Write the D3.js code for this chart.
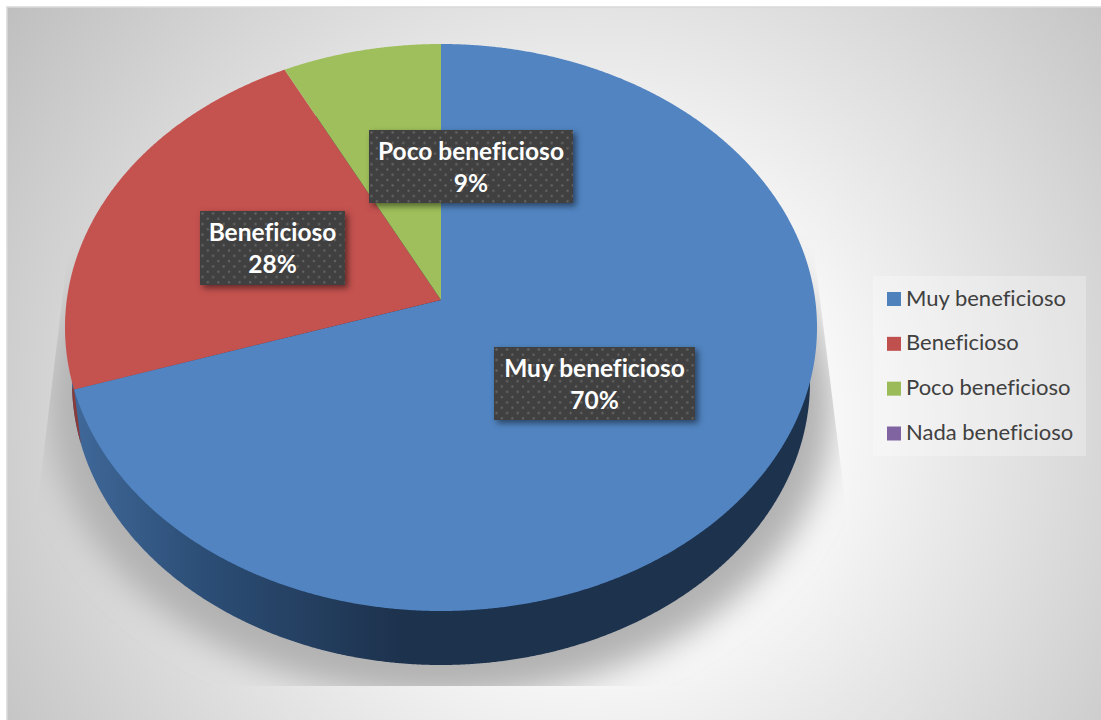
<!DOCTYPE html>
<html>
<head>
<meta charset="utf-8">
<script src="https://d3js.org/d3.v7.min.js"></script>
<style>
  html, body { margin: 0; padding: 0; background: #fff; overflow: hidden; }
  text { font-family: Lato, "Open Sans", sans-serif; font-variant-ligatures: none; }
</style>
</head>
<body>
<div class="chart"></div>
<script>
const categories = ['Muy beneficioso', 'Beneficioso', 'Poco beneficioso', 'Nada beneficioso'];
const sliceValues = [70, 22.5, 7.5, 0];
const labelTexts = ['70%', '28%', '9%'];
const colors = ['#4f81bd', '#c0504d', '#9bbb59', '#8064a2'];

const width = 1101, height = 720;
const svg = d3.select('.chart').append('svg')
    .attr('width', width)
    .attr('height', height)
    .style('display', 'block');
const defs = svg.append('defs');

// background
const bg = defs.append('radialGradient')
    .attr('id', 'bg')
    .attr('gradientUnits', 'userSpaceOnUse')
    .attr('cx', 590).attr('cy', 420).attr('r', 730);
bg.append('stop').attr('offset', '0.25').attr('stop-color', '#ffffff');
bg.append('stop').attr('offset', '1').attr('stop-color', '#bdbdbd');

// side of the pie
const wall = defs.append('linearGradient')
    .attr('id', 'wall')
    .attr('gradientUnits', 'userSpaceOnUse')
    .attr('x1', 70).attr('x2', 400).attr('y1', 0).attr('y2', 0);
wall.append('stop').attr('offset', '0').attr('stop-color', '#40699a');
wall.append('stop').attr('offset', '0.4').attr('stop-color', '#2c4e76');
wall.append('stop').attr('offset', '1').attr('stop-color', '#1d324d');

defs.append('filter').attr('id', 'floorBlur')
    .attr('x', '-20%').attr('y', '-20%').attr('width', '140%').attr('height', '140%')
    .append('feGaussianBlur').attr('stdDeviation', 16);
defs.append('clipPath').attr('id', 'floorClip')
    .append('polygon')
    .attr('points', '70,235 812,235 845,500 845,686 38,686 38,500');

const shadow = defs.append('filter').attr('id', 'boxShadow')
    .attr('x', '-10%').attr('y', '-20%').attr('width', '120%').attr('height', '140%');
shadow.append('feDropShadow')
    .attr('dx', 3).attr('dy', 3).attr('stdDeviation', 3)
    .attr('flood-color', '#000').attr('flood-opacity', 0.5);

const dots = defs.append('pattern').attr('id', 'dots')
    .attr('patternUnits', 'userSpaceOnUse')
    .attr('width', 10.6).attr('height', 10.6);
dots.append('rect').attr('width', 10.6).attr('height', 10.6).attr('fill', '#404040');
[[2.5, 2.5], [7.8, 7.8]].forEach(p => {
    dots.append('circle').attr('cx', p[0]).attr('cy', p[1]).attr('r', 1.2)
        .attr('fill', '#666666');
});

svg.append('rect')
    .attr('x', 7).attr('y', 7)
    .attr('width', width).attr('height', height)
    .attr('fill', 'url(#bg)')
    .attr('stroke', '#d9d9d9')
    .attr('stroke-width', 1.5);

// floor shadow
svg.append('g')
    .attr('clip-path', 'url(#floorClip)')
    .append('ellipse')
    .attr('cx', 441).attr('cy', 406)
    .attr('rx', 392).attr('ry', 292)
    .attr('fill', '#b2b2b2')
    .attr('filter', 'url(#floorBlur)');

const top3d = {cx: 441, cy: 327.5, rx: 376, ry: 283.5};
const bottom3d = {cx: 441, cy: 382, rx: 369, ry: 283};
const tilt = 0.097;

// angle on the disc -> point on the tilted ellipse
function project(a, e) {
    const x = Math.sin(a), y = Math.cos(a);
    const d = 1 + tilt * y;
    return [
        e.cx + e.rx * x * Math.sqrt(1 - tilt * tilt) / d,
        e.cy - e.ry * (y + tilt) / d
    ];
}
const line = d3.line();
const sweep = (a0, a1, e) => d3.range(a0, a1, 0.004).concat([a1]).map(a => project(a, e));

const arcs = d3.pie().sort(null).value(d => d)(sliceValues);

// side wall
svg.append('path')
    .attr('d', line(sweep(0, 2 * Math.PI, bottom3d)) + 'Z')
    .attr('fill', 'url(#wall)');

const blueEnd = arcs[0].endAngle;
svg.append('path')
    .attr('d', line([project(blueEnd, top3d)].concat(sweep(blueEnd, blueEnd + 0.2, bottom3d))) + 'Z')
    .attr('fill', '#8a3a38');

// top face
const apex = [top3d.cx, top3d.cy - top3d.ry * tilt];
svg.selectAll('path.slice')
    .data(arcs.filter(d => d.value > 0))
    .enter()
    .append('path')
    .attr('class', 'slice')
    .attr('d', d => line([apex].concat(sweep(d.startAngle, d.endAngle, top3d))) + 'Z')
    .attr('fill', d => d3.color(colors[d.index]).brighter(0.06));

// data labels
const labelBoxes = [
    {x: 494, y: 347, w: 201, h: 73},
    {x: 200, y: 211, w: 145, h: 74},
    {x: 369, y: 130, w: 204, h: 73}
];
const labels = svg.selectAll('g.label')
    .data(labelBoxes)
    .enter()
    .append('g')
    .attr('class', 'label')
    .attr('transform', d => `translate(${d.x},${d.y})`);
labels.append('rect')
    .attr('width', d => d.w)
    .attr('height', d => d.h)
    .attr('fill', 'url(#dots)')
    .attr('filter', 'url(#boxShadow)');
labels.append('text')
    .attr('x', d => d.w / 2)
    .attr('y', 30)
    .attr('text-anchor', 'middle')
    .attr('font-size', 24.5)
    .attr('font-weight', 'bold')
    .attr('fill', '#fff')
    .text((d, i) => categories[i]);
labels.append('text')
    .attr('x', d => d.w / 2)
    .attr('y', 62)
    .attr('text-anchor', 'middle')
    .attr('font-size', 24.5)
    .attr('font-weight', 'bold')
    .attr('fill', '#fff')
    .text((d, i) => labelTexts[i]);

// legend
svg.append('rect')
    .attr('x', 873).attr('y', 276)
    .attr('width', 213).attr('height', 180)
    .attr('fill', '#fff')
    .attr('opacity', 0.28);
const legendY = d3.scalePoint()
    .domain(categories)
    .range([299, 433.5]);
const legend = svg.selectAll('g.legend')
    .data(categories)
    .enter()
    .append('g')
    .attr('class', 'legend')
    .attr('transform', d => `translate(887,${legendY(d)})`);
legend.append('rect')
    .attr('y', -7)
    .attr('width', 14)
    .attr('height', 14)
    .attr('fill', (d, i) => colors[i]);
legend.append('text')
    .attr('x', 19)
    .attr('y', 6.5)
    .attr('font-size', 22)
    .attr('fill', '#404040')
    .text(d => d);
</script>
</body>
</html>
